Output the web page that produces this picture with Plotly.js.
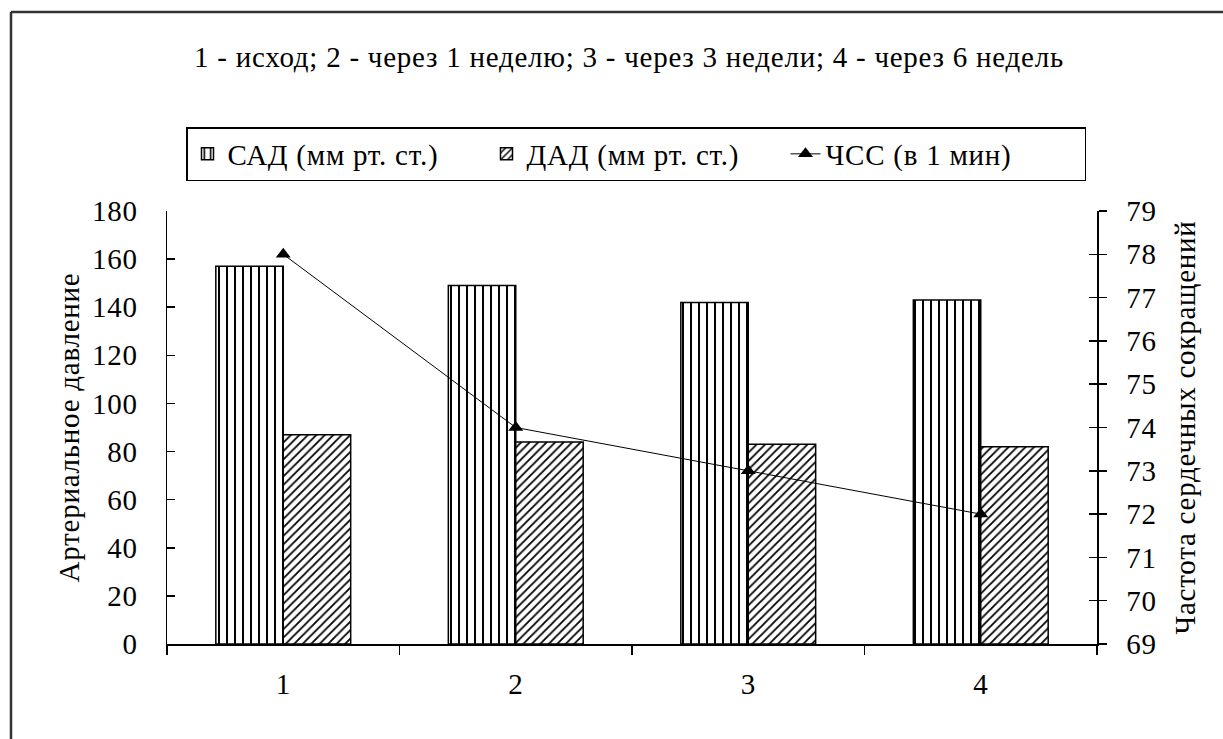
<!DOCTYPE html>
<html>
<head>
<meta charset="utf-8">
<script src="https://cdn.plot.ly/plotly-3.0.1.min.js"></script>
<style>
html,body{margin:0;padding:0;background:#fff;}
#chart{width:1223px;height:739px;}
#chart text{letter-spacing:0.75px; font-family:'Liberation Serif', serif !important;}
</style>
</head>
<body>
<div id="chart"></div>
<script>
const categories = ['1', '2', '3', '4'];
const sadValues = [157, 149, 142, 143];
const dadValues = [87, 84, 83, 82];
const hrValues = [78, 74, 73, 72];
const seriesNames = ['САД (мм рт. ст.)', 'ДАД (мм рт. ст.)', 'ЧСС (в 1 мин)'];
const titleText = '1 - исход; 2 - через 1 неделю; 3 - через 3 недели; 4 - через 6 недель';
const leftTitle = 'Артериальное давление';
const rightTitle = 'Частота сердечных сокращений';

const FONT = 'Liberation Serif, serif';
const FS = 29;
const mk = () => ({family: FONT, size: FS, color: 'black'});

const traces = [
  {
    type: 'bar', name: seriesNames[0], x: categories, y: sadValues,
    marker: {color: 'white', line: {color: 'black', width: 1.5},
      pattern: {shape: '|', size: 8, solidity: 0.25, fgcolor: 'black', bgcolor: 'white', fillmode: 'replace'}},
    hoverinfo: 'y'
  },
  {
    type: 'bar', name: seriesNames[1], x: categories, y: dadValues,
    marker: {color: 'white', line: {color: 'black', width: 1.5},
      pattern: {shape: '/', size: 6, solidity: 0.3, fgcolor: 'black', bgcolor: 'white', fillmode: 'replace'}},
    hoverinfo: 'y'
  },
  {
    type: 'scatter', mode: 'lines+markers', name: seriesNames[2], x: categories, y: hrValues,
    yaxis: 'y2', line: {color: 'black', width: 1},
    marker: {symbol: 'triangle-up', size: 13, color: 'black'}
  },
  {
    type: 'scatter', mode: 'lines', x: categories, y: hrValues, yaxis: 'y3',
    showlegend: false, hoverinfo: 'skip', line: {color: 'rgba(0,0,0,0)', width: 0}
  }
];

const L = 167, R = 1097, T = 211, B = 644;
const pw = R - L, ph = B - T;
const px = v => (v - L) / pw;
const py = v => (B - v) / ph;

const layout = {
  width: 1223, height: 739,
  margin: {l: L, r: 1223 - R, t: T, b: 739 - B},
  paper_bgcolor: 'white', plot_bgcolor: 'white',
  font: mk(),
  barmode: 'group', bargap: 0.42, bargroupgap: 0,
  title: {text: titleText, font: mk(),
    x: (178 + 1080) / 2 / 1223, xanchor: 'center', y: 1 - 57 / 739, yanchor: 'middle'},
  showlegend: true,
  legend: {orientation: 'h', x: px(186), xanchor: 'left', y: py(127), yanchor: 'top',
    bordercolor: 'black', borderwidth: 1.5, bgcolor: 'white',
    entrywidth: 254, entrywidthmode: 'pixels',
    font: mk(), tracegroupgap: 0},
  xaxis: {
    type: 'category', range: [-0.5, 3.5], showline: true, linecolor: 'black', linewidth: 1.5,
    ticks: 'outside', tickson: 'boundaries', ticklen: 9, tickcolor: 'black', tickwidth: 1.5,
    showgrid: false, zeroline: false, fixedrange: true, ticklabelstandoff: 14,
    tickfont: mk()
  },
  yaxis: {
    range: [0, 180], dtick: 20, showline: true, linecolor: 'black', linewidth: 1.5,
    ticks: 'inside', ticklen: 8, tickcolor: 'black', tickwidth: 1.5,
    showgrid: false, zeroline: false, ticklabelstandoff: 22,
    tickfont: mk(),
    title: {text: leftTitle, font: mk(), standoff: 6}
  },
  yaxis2: {
    range: [69, 79], dtick: 1, overlaying: 'y', side: 'right', showline: true,
    linecolor: 'black', linewidth: 1.5,
    ticks: 'outside', ticklen: 8, tickcolor: 'black', tickwidth: 1.5,
    showgrid: false, zeroline: false, ticklabelstandoff: 14,
    tickfont: mk(),
    title: {text: rightTitle, font: mk(), standoff: 20}
  },
  yaxis3: {
    range: [69, 79], dtick: 1, overlaying: 'y', side: 'right', showline: false,
    ticks: 'inside', ticklen: 8, tickcolor: 'black', tickwidth: 1.5,
    showticklabels: false, showgrid: false, zeroline: false
  },
  shapes: [
    {type: 'line', xref: 'paper', yref: 'paper', x0: px(11), x1: px(11), y0: py(12), y1: py(760),
      line: {color: '#333', width: 2.5}},
    {type: 'line', xref: 'paper', yref: 'paper', x0: px(11), x1: px(1240), y0: py(12), y1: py(12),
      line: {color: '#333', width: 2.5}}
  ]
};

Plotly.newPlot('chart', traces, layout, {displayModeBar: false, staticPlot: true});
</script>
</body>
</html>
